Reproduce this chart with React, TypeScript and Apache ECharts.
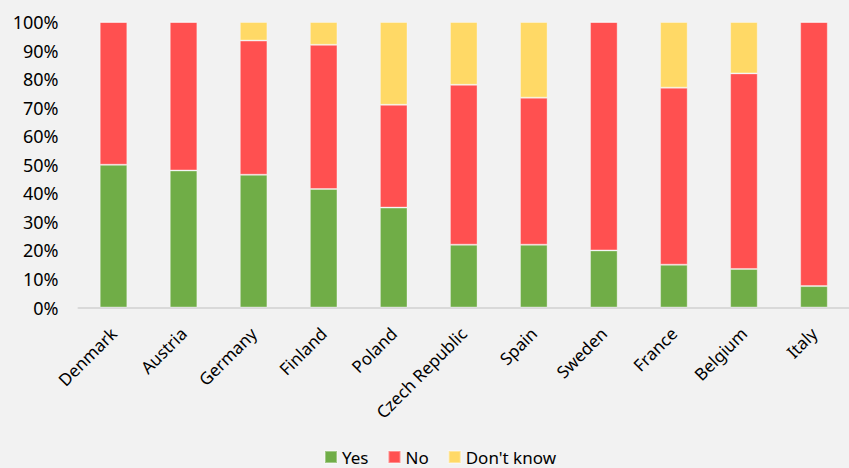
import React, { useEffect, useRef } from "react";
import * as echarts from "echarts";

const countries = ["Denmark", "Austria", "Germany", "Finland", "Poland", "Czech Republic", "Spain", "Sweden", "France", "Belgium", "Italy"];
const yes = [50, 48, 46.5, 41.5, 35, 22, 22, 20, 15, 13.5, 7.5];
const no = [50, 52, 47, 50.5, 36, 56, 51.5, 80, 62, 68.5, 92.5];
const dontKnow = [0, 0, 6.5, 8, 29, 22, 26.5, 0, 23, 18, 0];
const seriesNames = ["Yes", "No", "Don't know"];
const colors = ["#70AD47", "#FF5050", "#FFD966"];

export default function App() {
  const ref = useRef<HTMLDivElement>(null);
  useEffect(() => {
    if (!ref.current) return;
    const chart = echarts.init(ref.current, null, { renderer: "svg" });
    const font = "'Noto Sans', sans-serif";
    const data = [yes, no, dontKnow];
    chart.setOption({
      animation: false,
      backgroundColor: "#F2F2F2",
      textStyle: { fontFamily: font },
      grid: { left: 78.5, top: 22, width: 781, height: 285.5, containLabel: false },
      legend: {
        left: 324,
        top: 447,
        padding: 0,
        itemWidth: 12,
        itemHeight: 12,
        itemGap: 19,
        icon: "rect",
        textStyle: { fontFamily: font, fontSize: 17, color: "#000", lineHeight: 20, padding: [0, 0, 0, 0] },
        data: seriesNames,
      },
      xAxis: {
        type: "category",
        data: countries,
        axisLine: { show: true, lineStyle: { color: "#D9D9D9", width: 2 } },
        axisTick: { show: false },
        axisLabel: { rotate: 45, fontSize: 17, color: "#000", margin: 23, fontFamily: font, interval: 0 },
      },
      yAxis: {
        type: "value",
        min: 0,
        max: 100,
        interval: 10,
        axisLine: { show: false },
        axisTick: { show: false },
        splitLine: { show: false },
        axisLabel: { formatter: "{value}%", fontSize: 18, color: "#000", margin: 20, fontFamily: font },
      },
      series: data.map((d, i) => ({
        name: seriesNames[i],
        type: "bar",
        stack: "total",
        barWidth: "39.4%",
        data: d,
        itemStyle: { color: colors[i], borderColor: "rgba(255,255,255,0.35)", borderWidth: 1 },
      })),
    });
    return () => chart.dispose();
  }, []);
  return <div ref={ref} style={{ position: "fixed", left: 0, top: 0, width: 849, height: 468 }} />;
}
